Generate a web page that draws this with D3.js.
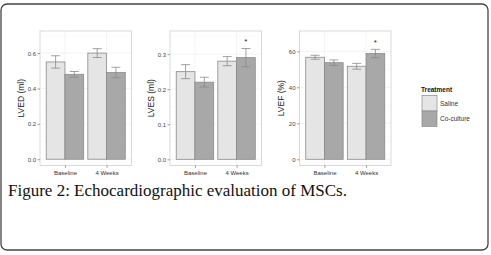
<!DOCTYPE html>
<html>
<head>
<style>
  body {
    background-color: white;
    margin: 0px;
  }
  text {
    font-family: "Liberation Sans", Arial, sans-serif;
  }
</style>
<script src="https://d3js.org/d3.v7.min.js"></script>
</head>
<body>
  <svg></svg>
</body>
<script>
const groups = ["Baseline", "4 Weeks"];
const treatments = ["Saline", "Co-culture"];

const lvedSaline = [0.55, 0.60];
const lvedSalineErr = [0.035, 0.025];
const lvedCoculture = [0.48, 0.49];
const lvedCocultureErr = [0.016, 0.03];

const lvesSaline = [0.25, 0.28];
const lvesSalineErr = [0.02, 0.013];
const lvesCoculture = [0.22, 0.29];
const lvesCocultureErr = [0.014, 0.026];

const lvefSaline = [56.7, 51.7];
const lvefSalineErr = [1.1, 1.6];
const lvefCoculture = [53.7, 58.8];
const lvefCocultureErr = [1.5, 2.3];

// "*" marks: [group index, treatment index]
const lvesStars = [[1, 1]];
const lvefStars = [[1, 1]];

const width = 491, height = 255;
const fills = ["#e5e5e5", "#a8a8a8"];

const svg = d3.select("svg")
    .attr("width", width)
    .attr("height", height);

// outer frame
svg.append("rect")
    .attr("x", 1).attr("y", 4)
    .attr("width", 487).attr("height", 246)
    .attr("rx", 6)
    .style("fill", "none")
    .style("stroke", "#444")
    .style("stroke-width", 1.3);

const panels = [
  {left: 40, title: "LVED (ml)", domain: [-0.035, 0.725], ticks: [0, 0.2, 0.4, 0.6], fmt: d3.format(".1f"),
   mean: [lvedSaline, lvedCoculture], err: [lvedSalineErr, lvedCocultureErr], stars: [], starOff: 0},
  {left: 170, title: "LVES (ml)", domain: [-0.0174, 0.366], ticks: [0, 0.1, 0.2, 0.3], fmt: d3.format(".1f"),
   mean: [lvesSaline, lvesCoculture], err: [lvesSalineErr, lvesCocultureErr], stars: lvesStars, starOff: 0.012},
  {left: 299.5, title: "LVEF (%)", domain: [-3.4, 71.3], ticks: [0, 20, 40, 60], fmt: d3.format("d"),
   mean: [lvefSaline, lvefCoculture], err: [lvefSalineErr, lvefCocultureErr], stars: lvefStars, starOff: 2.5}
];

const panelW = 91.5, panelTop = 31, panelBottom = 165.4;

panels.forEach(function(p) {
  const g = svg.append("g");
  const x = d3.scaleLinear().domain([0.4, 2.6]).range([p.left, p.left + panelW]);
  const y = d3.scaleLinear().domain(p.domain).range([panelBottom, panelTop]);

  // grid
  const minor = p.ticks.slice(0, -1).map(function(d, i) {return (d + p.ticks[i + 1]) / 2})
      .concat([p.ticks[p.ticks.length - 1] + (p.ticks[1] - p.ticks[0]) / 2]);
  g.selectAll(".minor").data(minor).enter().append("line")
      .attr("x1", p.left).attr("x2", p.left + panelW)
      .attr("y1", function(d) {return y(d)}).attr("y2", function(d) {return y(d)})
      .style("stroke", "#f7f7f7").style("stroke-width", 0.5);
  g.selectAll(".major").data(p.ticks).enter().append("line")
      .attr("x1", p.left).attr("x2", p.left + panelW)
      .attr("y1", function(d) {return y(d)}).attr("y2", function(d) {return y(d)})
      .style("stroke", "#efefef").style("stroke-width", 0.7);
  g.selectAll(".vgrid").data([1, 2]).enter().append("line")
      .attr("x1", function(d) {return x(d)}).attr("x2", function(d) {return x(d)})
      .attr("y1", panelTop).attr("y2", panelBottom)
      .style("stroke", "#efefef").style("stroke-width", 0.7);

  // bars
  p.mean.forEach(function(vals, t) {
    vals.forEach(function(v, i) {
      const x0 = i + 1 - 0.45 + t * 0.45;
      g.append("rect")
          .attr("x", x(x0)).attr("width", x(x0 + 0.45) - x(x0))
          .attr("y", y(v)).attr("height", y(0) - y(v))
          .style("fill", fills[t])
          .style("stroke", "#8a8a8a")
          .style("stroke-width", 0.8);
      const cx = x(x0 + 0.225), e = p.err[t][i], cap = 4.5;
      g.append("path")
          .attr("d", "M" + (cx - cap) + "," + y(v + e) + "H" + (cx + cap) +
                     "M" + cx + "," + y(v + e) + "V" + y(v - e) +
                     "M" + (cx - cap) + "," + y(v - e) + "H" + (cx + cap))
          .style("fill", "none")
          .style("stroke", "#8a8a8a")
          .style("stroke-width", 0.8);
    });
  });

  // significance
  p.stars.forEach(function(s) {
    const i = s[0], t = s[1];
    const cx = x(i + 1 - 0.45 + t * 0.45 + 0.225);
    g.append("text")
        .attr("x", cx).attr("y", y(p.mean[t][i] + p.err[t][i] + p.starOff))
        .attr("text-anchor", "middle")
        .style("font-size", "8px")
        .style("fill", "#222")
        .text("*");
  });

  // panel border
  g.append("rect")
      .attr("x", p.left).attr("y", panelTop)
      .attr("width", panelW).attr("height", panelBottom - panelTop)
      .style("fill", "none")
      .style("stroke", "#cfcfcf")
      .style("stroke-width", 0.8);

  // y axis
  const ya = g.append("g")
      .attr("transform", "translate(" + p.left + ",0)")
      .call(d3.axisLeft(y).tickValues(p.ticks).tickFormat(p.fmt).tickSize(2.5).tickPadding(1.5));
  ya.select(".domain").remove();
  ya.selectAll("line").style("stroke", "#777").style("stroke-width", 0.7);
  ya.selectAll("text").style("font-size", "6px").style("fill", "#444").style("font-family", "Liberation Sans, Arial, sans-serif");

  // x axis
  const xa = g.append("g")
      .attr("transform", "translate(0," + panelBottom + ")")
      .call(d3.axisBottom(x).tickValues([1, 2]).tickFormat(function(d) {return groups[d - 1]}).tickSize(2.5).tickPadding(2.5));
  xa.select(".domain").remove();
  xa.selectAll("line").style("stroke", "#777").style("stroke-width", 0.7);
  xa.selectAll("text").style("font-size", "6px").style("fill", "#333").style("font-family", "Liberation Sans, Arial, sans-serif");

  // title
  g.append("text")
      .attr("transform", "translate(" + (p.left - 16) + "," + ((panelTop + panelBottom) / 2) + ") rotate(-90)")
      .attr("text-anchor", "middle")
      .style("font-size", "8.5px")
      .style("fill", "#222")
      .text(p.title);
});

// legend
const legend = svg.append("g").attr("transform", "translate(422,0)");
legend.append("text")
    .attr("x", -1).attr("y", 91.5)
    .style("font-size", "6.5px")
    .style("font-weight", "bold")
    .style("fill", "#111")
    .text("Treatment");
treatments.forEach(function(t, i) {
  legend.append("rect")
      .attr("x", 0).attr("y", 95.5 + i * 15.5)
      .attr("width", 15).attr("height", 15.5)
      .style("fill", fills[i])
      .style("stroke", "#8a8a8a")
      .style("stroke-width", 0.7);
  legend.append("text")
      .attr("x", 18).attr("y", 103.5 + i * 15.5)
      .attr("dy", "0.35em")
      .style("font-size", "6.5px")
      .style("fill", "#333")
      .text(t);
});

// caption
svg.append("text")
    .attr("x", 8).attr("y", 196)
    .style("font-family", "Liberation Serif, Times New Roman, serif")
    .style("font-size", "17px")
    .style("fill", "#111")
    .text("Figure 2: Echocardiographic evaluation of MSCs.");
</script>
</html>
